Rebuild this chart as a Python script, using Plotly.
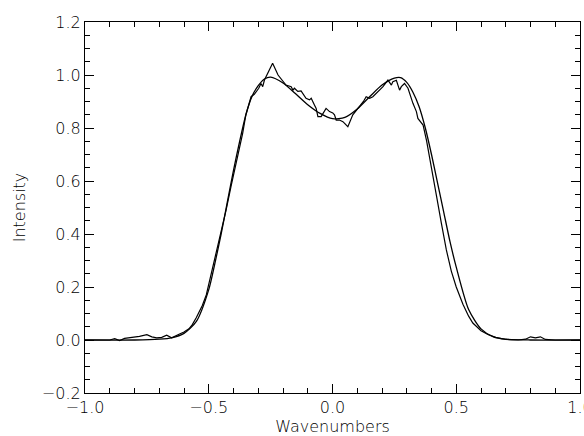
import plotly.graph_objects as go

# fitted (smooth) profile
fit_x = [-1.0, -0.8, -0.7, -0.65, -0.6, -0.55, -0.5, -0.475, -0.45, -0.425, -0.4, -0.375,
         -0.35, -0.325, -0.3, -0.275, -0.25, -0.2, -0.15, -0.1, -0.05, 0.0, 0.05, 0.1,
         0.15, 0.2, 0.25, 0.275, 0.3, 0.325, 0.35, 0.375, 0.4, 0.425, 0.45, 0.475, 0.5,
         0.55, 0.6, 0.65, 0.7, 0.8, 1.0]
fit_y = [0, 0, 0.003, 0.008, 0.025, 0.07, 0.19, 0.29, 0.40, 0.52, 0.64, 0.75,
         0.85, 0.92, 0.96, 0.985, 0.992, 0.97, 0.93, 0.888, 0.855, 0.835, 0.84, 0.872,
         0.918, 0.962, 0.988, 0.99, 0.972, 0.935, 0.88, 0.8, 0.70, 0.59, 0.48, 0.37, 0.275,
         0.115, 0.042, 0.012, 0.003, 0, 0]

# measured profile
meas_x = [-1.0, -0.9, -0.88, -0.86, -0.84, -0.82, -0.8, -0.78, -0.75, -0.73, -0.71, -0.69,
          -0.67, -0.65, -0.62, -0.6, -0.58, -0.567, -0.55, -0.526, -0.51, -0.49, -0.47,
          -0.45, -0.43, -0.41, -0.39, -0.37, -0.363, -0.35, -0.34, -0.329, -0.316, -0.305,
          -0.298, -0.289, -0.282, -0.275, -0.26, -0.242, -0.22, -0.2, -0.188, -0.167, -0.16,
          -0.154, -0.14, -0.127, -0.107, -0.093, -0.086, -0.073, -0.066, -0.059, -0.046,
          -0.026, -0.012, 0.001, 0.008, 0.015, 0.028, 0.042, 0.062, 0.082, 0.095, 0.109,
          0.125, 0.136, 0.15, 0.163, 0.18, 0.204, 0.224, 0.238, 0.244, 0.258, 0.271, 0.278,
          0.291, 0.305, 0.325, 0.339, 0.345, 0.366, 0.38, 0.4, 0.42, 0.44, 0.46, 0.48, 0.5,
          0.527, 0.55, 0.567, 0.6, 0.63, 0.66, 0.7, 0.75, 0.78, 0.8, 0.82, 0.84, 0.86, 0.9,
          1.0]
meas_y = [0, 0, 0.005, -0.002, 0.006, 0.008, 0.012, 0.014, 0.02, 0.012, 0.008, 0.01,
          0.018, 0.008, 0.022, 0.03, 0.042, 0.057, 0.085, 0.13, 0.17, 0.25, 0.32,
          0.40, 0.49, 0.58, 0.66, 0.74, 0.78, 0.85, 0.88, 0.918, 0.927, 0.94,
          0.95, 0.968, 0.956, 0.981, 1.01, 1.044, 1.0, 0.975, 0.962, 0.956, 0.943,
          0.95, 0.938, 0.94, 0.912, 0.906, 0.912, 0.887, 0.874, 0.843, 0.843,
          0.874, 0.862, 0.857, 0.85, 0.83, 0.83, 0.824, 0.805, 0.85, 0.865, 0.88,
          0.9, 0.918, 0.912, 0.918, 0.935, 0.956, 0.981, 0.962, 0.975, 0.98, 0.943, 0.956,
          0.968, 0.95, 0.893, 0.862, 0.836, 0.811, 0.752, 0.654, 0.545, 0.44, 0.34, 0.26, 0.2,
          0.135, 0.09, 0.064, 0.035, 0.02, 0.01, 0.002, 0.0, 0.003, 0.012, 0.008, 0.012, 0.002, 0.0,
          0.0]

font = dict(family="DejaVu Sans", size=16, color="black", weight=200)

fig = go.Figure()
fig.add_trace(go.Scatter(x=fit_x, y=fit_y, mode='lines', line=dict(color='black', width=1.3,
                                                                    shape='spline', smoothing=0.7)))
fig.add_trace(go.Scatter(x=meas_x, y=meas_y, mode='lines', line=dict(color='black', width=1.2)))

axis_common = dict(showline=True, linecolor='black', linewidth=1.2, mirror='ticks', ticks='inside',
                   ticklen=9, tickwidth=1.2, tickcolor='black', showgrid=False, zeroline=False,
                   tickfont=font, ticklabeloverflow='allow', automargin=False)
fig.update_layout(
    width=584, height=436,
    margin=dict(l=85, r=4, t=22, b=43),
    paper_bgcolor='white', plot_bgcolor='white',
    showlegend=False,
    xaxis=dict(range=[-1.0, 1.0], dtick=0.5, tickformat='.1f',
               minor=dict(dtick=0.1, ticks='inside', ticklen=5, tickcolor='black', showgrid=False),
               title=dict(text='Wavenumbers', font=font, standoff=0), **axis_common),
    yaxis=dict(range=[-0.2, 1.2], dtick=0.2, tickformat='.1f',
               minor=dict(dtick=0.05, ticks='inside', ticklen=5, tickcolor='black', showgrid=False),
               title=dict(text='Intensity', font=font, standoff=12), **axis_common),
)
# drop the browser's default body margin so the figure sits at the page corner
fig.write_html("out.html", config={'displayModeBar': False},
               post_script="document.body.style.margin='0';")
